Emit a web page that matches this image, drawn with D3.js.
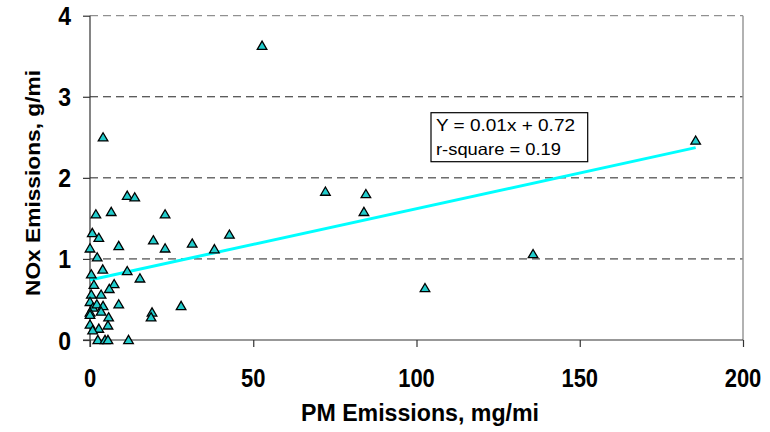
<!DOCTYPE html>
<html><head><meta charset="utf-8">
<script src="https://cdn.jsdelivr.net/npm/d3@7"></script>
<style>body{margin:0;background:#fff}svg{display:block}text{font-family:"Liberation Sans",Arial,sans-serif}</style>
</head><body>
<svg id="c" width="770" height="432"></svg>
<script>
const pmX = [52.7,185.5,4.0,72.1,84.5,83.9,102.6,135.7,31.3,38.1,42.7,27.9,
  11.4,13.7,1.8,6.5,23.0,0.7,2.7,8.8,19.4,23.0,0.0,2.2,11.4,15.3,3.9,0.4,1.2,7.4,5.9,3.4,0.4,
  0.0,0.9,2.1,4.0,3.4,0.0,0.0,8.8,19.0,18.7,5.7,5.5,0.0,2.7,0.8,2.4,4.6,5.5,11.8];
const noxY = [3.63,2.46,2.50,1.83,1.80,1.58,0.64,1.06,1.19,1.12,1.30,0.42,
  1.78,1.76,1.55,1.58,1.55,1.32,1.26,1.16,1.23,1.13,1.13,1.02,0.85,0.76,0.87,0.81,0.68,0.69,0.63,0.56,0.56,
  0.47,0.40,0.44,0.42,0.35,0.34,0.31,0.44,0.34,0.28,0.28,0.18,0.19,0.14,0.12,0.00,0.00,0.00,0.00];
const xTicks = [0,50,100,150,200];
const yTicks = [0,1,2,3,4];
const trendIntercept = 0.74, trendSlope = 0.0088, trendX = [0, 185.5];
const eqLines = ["Y = 0.01x + 0.72", "r-square = 0.19"];

const svg = d3.select("#c");
const L = 90, R = 743, T = 15.7, B = 340;
const x = d3.scaleLinear().domain([0,200]).range([L,R]);
const y = d3.scaleLinear().domain([0,4]).range([B,T]);

// grid
svg.append("g").selectAll("line").data(yTicks.filter(d=>d>0)).join("line")
  .attr("x1",L).attr("x2",R).attr("y1",d=>y(d)).attr("y2",d=>y(d))
  .attr("stroke",d=>d===4?"#777":"#222").attr("stroke-width",1).attr("stroke-dasharray","8,5");
// plot border right
svg.append("line").attr("x1",R).attr("x2",R).attr("y1",T).attr("y2",B)
  .attr("stroke","#999").attr("stroke-width",1.5);

// axes
const xa = svg.append("g").attr("transform",`translate(0,${B})`)
  .call(d3.axisBottom(x).tickValues(xTicks).tickSize(7).tickFormat(""));
const ya = svg.append("g").attr("transform",`translate(${L},0)`)
  .call(d3.axisLeft(y).tickValues(yTicks).tickSize(7).tickFormat(""));
[xa,ya].forEach(a=>{a.selectAll("path,line").attr("stroke","#333").attr("stroke-width",1.2);});
xa.select(".domain").attr("d",`M${L-7},0H${R}`);
ya.select(".domain").attr("d",`M0,${B+7}V${T}`);

// tick labels
svg.append("g").selectAll("text").data(xTicks).join("text")
  .attr("transform",d=>`translate(${x(d)},386.5) scale(1,1.2)`).attr("text-anchor","middle")
  .attr("font-size",22).attr("font-weight","bold").attr("fill","#000").text(d=>d);
svg.append("g").selectAll("text").data(yTicks).join("text")
  .attr("transform",d=>`translate(71,${y(d)+9.5}) scale(1,1.15)`).attr("text-anchor","end")
  .attr("font-size",23).attr("font-weight","bold").attr("fill","#000").text(d=>d);

// axis titles
svg.append("text").attr("transform",`translate(420,421) scale(1,1.15)`).attr("text-anchor","middle")
  .attr("font-size",21).attr("font-weight","bold").attr("textLength",238).attr("lengthAdjust","spacingAndGlyphs")
  .text("PM Emissions, mg/mi");
svg.append("text").attr("transform","translate(39.5,183) rotate(-90)").attr("text-anchor","middle")
  .attr("font-size",20).attr("font-weight","bold").attr("textLength",226).attr("lengthAdjust","spacingAndGlyphs")
  .text("NOx Emissions, g/mi");

// trend line
svg.append("line").attr("x1",x(trendX[0])).attr("x2",x(trendX[1]))
  .attr("y1",y(trendIntercept+trendSlope*trendX[0])).attr("y2",y(trendIntercept+trendSlope*trendX[1]))
  .attr("stroke","#00FFFF").attr("stroke-width",3);

// points
svg.append("g").selectAll("path").data(pmX.map((d,i)=>[d,noxY[i]])).join("path")
  .attr("transform",d=>`translate(${x(d[0])},${y(d[1])})`)
  .attr("d","M0,-4.6L4.8,3.6L-4.8,3.6Z")
  .attr("fill","#22CCCC").attr("stroke","#000").attr("stroke-width",1.3).attr("stroke-linejoin","miter");

// equation box
const bx = 431, by = 112.7;
svg.append("rect").attr("x",bx).attr("y",by).attr("width",156.7).attr("height",49)
  .attr("fill","#fff").attr("stroke","#000").attr("stroke-width",1.2);
svg.append("g").selectAll("text").data(eqLines).join("text")
  .attr("x",bx+5).attr("y",(d,i)=>by+18.5+i*23.6).attr("font-size",16.5)
  .attr("textLength",(d,i)=>i?125:139).attr("lengthAdjust","spacingAndGlyphs").text(d=>d);
</script>
</body></html>
